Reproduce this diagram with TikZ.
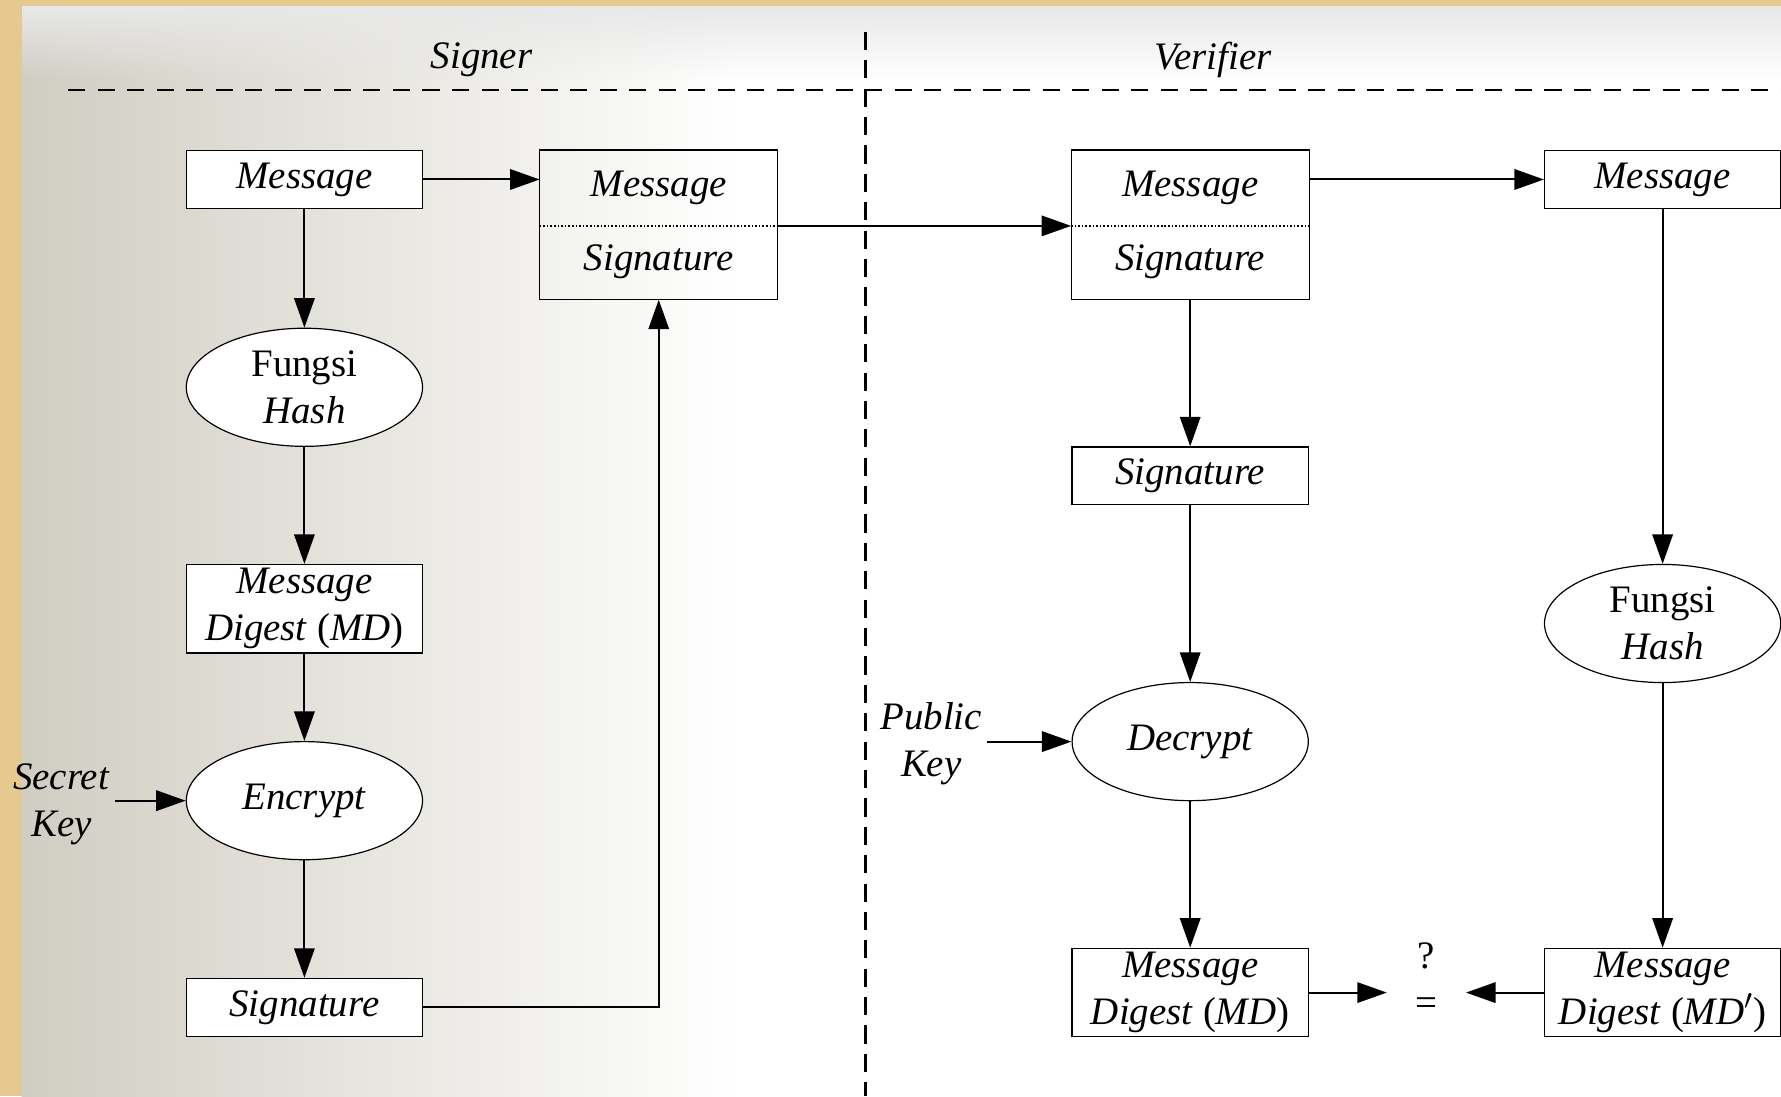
\documentclass[tikz,border=0pt]{standalone}
\usepackage{fontspec}
\setmainfont{Liberation Serif}
\usetikzlibrary{arrows.meta,shapes,positioning,fadings}
\definecolor{slidetan}{RGB}{229,201,142}
\definecolor{slidegray}{RGB}{208,205,194}
\tikzfading[name=fade down, top color=transparent!0, bottom color=transparent!100]
\tikzset{
    box/.style={draw, line width=0.6pt, minimum width=4.16cm, minimum height=1.02cm, inner sep=0pt, align=center, fill=white},
    tallbox/.style={box, minimum height=1.56cm},
    oval/.style={draw, ellipse, line width=0.6pt, minimum width=4.16cm, minimum height=2.08cm, inner sep=0pt, align=center, fill=white},
    half/.style={minimum width=4.16cm, minimum height=1.3cm, inner sep=0pt},
    keytext/.style={align=center, inner sep=2pt}
}
\begin{document}
\begin{tikzpicture}[->,>={Triangle[length=0.52cm,width=0.36cm]},x=0.02cm,y=-0.02cm,line width=1pt,font=\fontsize{19.5}{23.5}\selectfont]
        \useasboundingbox (0,0) rectangle (1568,965);
        % slide background
        \fill[white] (0,0) rectangle (1568,965);
        \shade[left color=slidegray, right color=white] (19,5) rectangle (650,965);
        \fill[black!9, path fading=fade down] (19,5) rectangle (1568,70);
        \fill[slidetan] (0,0) rectangle (1568,5);
        \fill[slidetan] (0,0) rectangle (19,965);
        % lanes
        \node (S) at (424,53) {\textit{Signer}};
        \node (V) at (1068,53) {\textit{Verifier}};
        \draw[-, dash pattern=on 0.3cm off 0.22cm, line width=1.1pt] (60,79) -- (1568,79);
        \draw[-, dash pattern=on 0.32cm off 0.18cm, line width=1.1pt] (762,28) -- (762,965);
        % signer
        \node[box] (A) at (268,158) {\textit{Message}};
        \node[oval] (B) [below of=A, node distance=3.66cm] {Fungsi\\\textit{Hash}};
        \node[tallbox] (C) [below of=B, node distance=3.9cm] {\textit{Message}\\\textit{Digest} (\textit{MD})};
        \node[oval] (D) [below of=C, node distance=3.38cm] {\textit{Encrypt}};
        \node[box] (E) [below of=D, node distance=3.64cm] {\textit{Signature}};
        \node[keytext] (SK) [left of=D, node distance=4.28cm, yshift=-0.06cm] {\textit{Secret}\\\textit{Key}};
        \node[half] (F1) [right of=A, node distance=6.24cm, yshift=-0.15cm] {\textit{Message}};
        \node[half] (F2) [below of=F1, node distance=1.3cm] {\textit{Signature}};
        \draw[-, line width=0.6pt] (F1.north west) rectangle (F2.south east);
        \draw[-, densely dotted, line width=0.8pt] (F1.south west) -- (F1.south east);
        % verifier
        \node[half] (G1) [right of=F1, node distance=9.36cm] {\textit{Message}};
        \node[half] (G2) [below of=G1, node distance=1.3cm] {\textit{Signature}};
        \draw[-, line width=0.6pt] (G1.north west) rectangle (G2.south east);
        \draw[-, densely dotted, line width=0.8pt] (G1.south west) -- (G1.south east);
        \node[box] (H) [right of=G1, node distance=8.32cm, yshift=0.15cm] {\textit{Message}};
        \node[box] (I) [below of=G2, node distance=3.77cm] {\textit{Signature}};
        \node[oval] (J) [below of=I, node distance=4.68cm] {\textit{Decrypt}};
        \node[keytext] (PK) [left of=J, node distance=4.56cm, yshift=-0.04cm] {\textit{Public}\\\textit{Key}};
        \node[tallbox] (K) [below of=J, node distance=4.42cm] {\textit{Message}\\\textit{Digest} (\textit{MD})};
        \node[oval] (M) [below of=H, node distance=7.82cm] {Fungsi\\\textit{Hash}};
        \node[tallbox] (N) [below of=M, node distance=6.5cm] {\textit{Message}\\\textit{Digest} (\textit{MD}$'$)};
        \node[align=center, inner sep=0pt, minimum width=1.36cm] (Q) [right of=K, node distance=4.16cm, yshift=0.24cm] {?\\=};
        \path
        (A) edge (B)
        (B) edge (C)
        (C) edge (D)
        (D) edge (E)
        (SK.east |- D) edge (D)
        (A) edge (A -| F1.west)
        (F1.south east) edge (G1.south west)
        (G1.east |- H) edge (H)
        (G2) edge (I)
        (I) edge (J)
        (PK.east |- J) edge (J)
        (J) edge (K)
        (H) edge (M)
        (M) edge (N)
        (K) edge (K -| Q.west)
        (N) edge (N -| Q.east);
        \draw (E) -| (F2);
\end{tikzpicture}
\end{document}
